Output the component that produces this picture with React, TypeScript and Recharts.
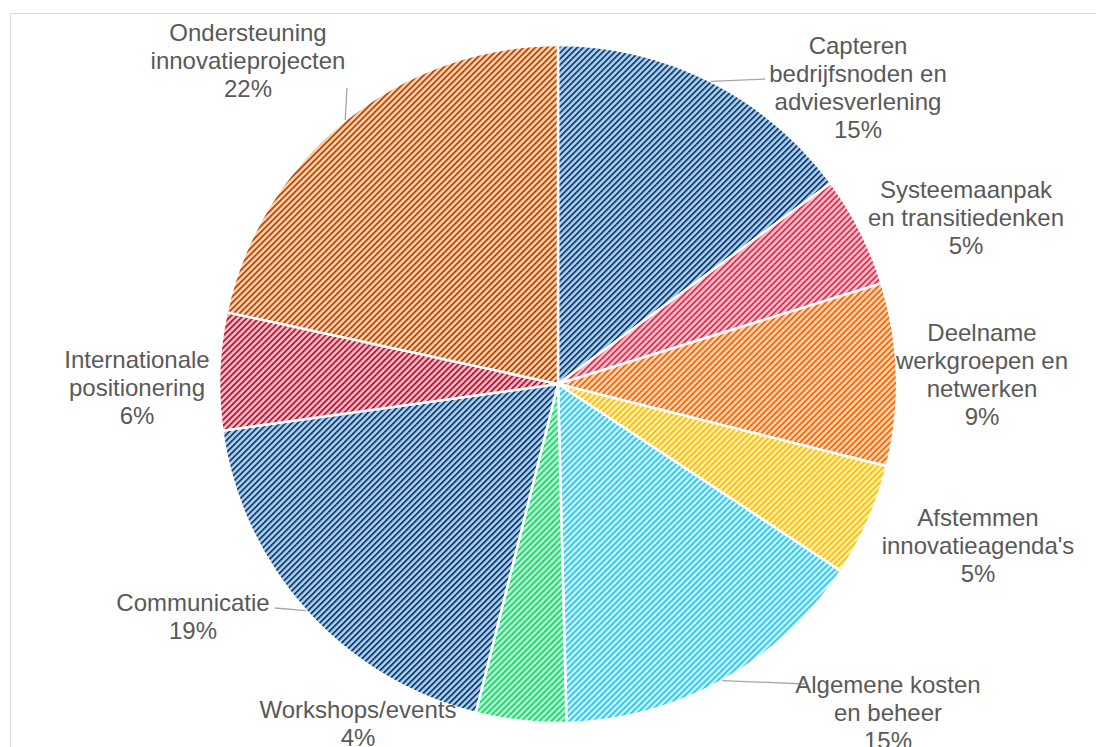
import React from 'react';
import { PieChart, Pie, Cell } from 'recharts';

const categories = [
  'Capteren bedrijfsnoden en adviesverlening',
  'Systeemaanpak en transitiedenken',
  'Deelname werkgroepen en netwerken',
  "Afstemmen innovatieagenda's",
  'Algemene kosten en beheer',
  'Workshops/events',
  'Communicatie',
  'Internationale positionering',
  'Ondersteuning innovatieprojecten',
];
const shares = [14.9, 5.3, 8.7, 5.4, 15.3, 4.3, 18.9, 5.6, 21.6];
const percentLabels = ['15%', '5%', '9%', '5%', '15%', '4%', '19%', '6%', '22%'];
const labelLines = [
  ['Capteren', 'bedrijfsnoden en', 'adviesverlening'],
  ['Systeemaanpak', 'en transitiedenken'],
  ['Deelname', 'werkgroepen en', 'netwerken'],
  ['Afstemmen', "innovatieagenda's"],
  ['Algemene kosten', 'en beheer'],
  ['Workshops/events'],
  ['Communicatie'],
  ['Internationale', 'positionering'],
  ['Ondersteuning', 'innovatieprojecten'],
];

// light background / dark stripe per slice
const bgColors = ['#a6d2f6', '#f9c3cf', '#fed9bd', '#fff0b5', '#c9f1fc', '#b6f3cf', '#a6d2f6', '#f5b9c2', '#fccfae'];
const stripeColors = ['#1c3d66', '#e2304f', '#ff6600', '#ffbf00', '#2fc8ef', '#1fd873', '#1c3d66', '#b01638', '#b34700'];

// label block placement relative to pie centre (first line centre)
const labelOffsets = [
  [300, -339], [408, -195], [424, -52], [420, 133], [330, 300], [-200, 325], [-365, 218], [-421, -25], [-310, -352],
];
// leader line end points relative to centre (null = no line)
const leaderEnds: (number[] | null)[] = [
  [207, -305], null, null, null, [247, 300], null, [-283, 224], null, [-211, -296],
];

const data = categories.map((name, i) => ({ name, value: shares[i] }));

const RADIAN = Math.PI / 180;
const LINE_H = 28;

const renderLabel = (props: any) => {
  const { cx, cy, midAngle, outerRadius, index } = props;
  const [dx, dy] = labelOffsets[index];
  const lines = [...labelLines[index], percentLabels[index]];
  const end = leaderEnds[index];
  const ex = cx + outerRadius * Math.cos(-midAngle * RADIAN);
  const ey = cy + outerRadius * Math.sin(-midAngle * RADIAN);
  return (
    <g key={`lbl-${index}`}>
      {end && (
        <line x1={ex} y1={ey} x2={cx + end[0]} y2={cy + end[1]} stroke="#a6a6a6" strokeWidth={1.3} />
      )}
      <text
        x={cx + dx}
        y={cy + dy}
        textAnchor="middle"
        fill="#595959"
        fontFamily="'Liberation Sans', Arial, sans-serif"
        fontSize={24}
      >
        {lines.map((t, k) => (
          <tspan key={k} x={cx + dx} y={cy + dy + k * LINE_H} dominantBaseline="central">
            {t}
          </tspan>
        ))}
      </text>
    </g>
  );
};

export default function App() {
  return (
    <div style={{ position: 'fixed', left: 0, top: 0, width: 1096, height: 747, background: '#fff', overflow: 'hidden' }}>
      <div
        style={{
          position: 'absolute',
          left: 10,
          top: 13,
          width: 1120,
          height: 780,
          border: '1.5px solid #d9d9d9',
        }}
      />
      <div style={{ position: 'absolute', left: 0, top: 0 }}>
        <PieChart width={1096} height={747} margin={{ top: 0, right: 0, bottom: 0, left: 0 }}>
          <defs>
            {bgColors.map((bg, i) => (
              <pattern
                key={i}
                id={`hatch-${i}`}
                patternUnits="userSpaceOnUse"
                width={4.24}
                height={4.24}
                patternTransform="rotate(45)"
              >
                <rect width={4.24} height={4.24} fill={bg} />
                <rect width={1.8} height={4.24} fill={stripeColors[i]} />
              </pattern>
            ))}
          </defs>
          <Pie
            data={data}
            dataKey="value"
            nameKey="name"
            cx={558}
            cy={384}
            outerRadius={339}
            startAngle={90}
            endAngle={-270}
            stroke="#ffffff"
            strokeWidth={2.5}
            label={renderLabel}
            labelLine={false}
            isAnimationActive={false}
          >
            {data.map((_, i) => (
              <Cell key={i} fill={`url(#hatch-${i})`} />
            ))}
          </Pie>
        </PieChart>
      </div>
    </div>
  );
}
